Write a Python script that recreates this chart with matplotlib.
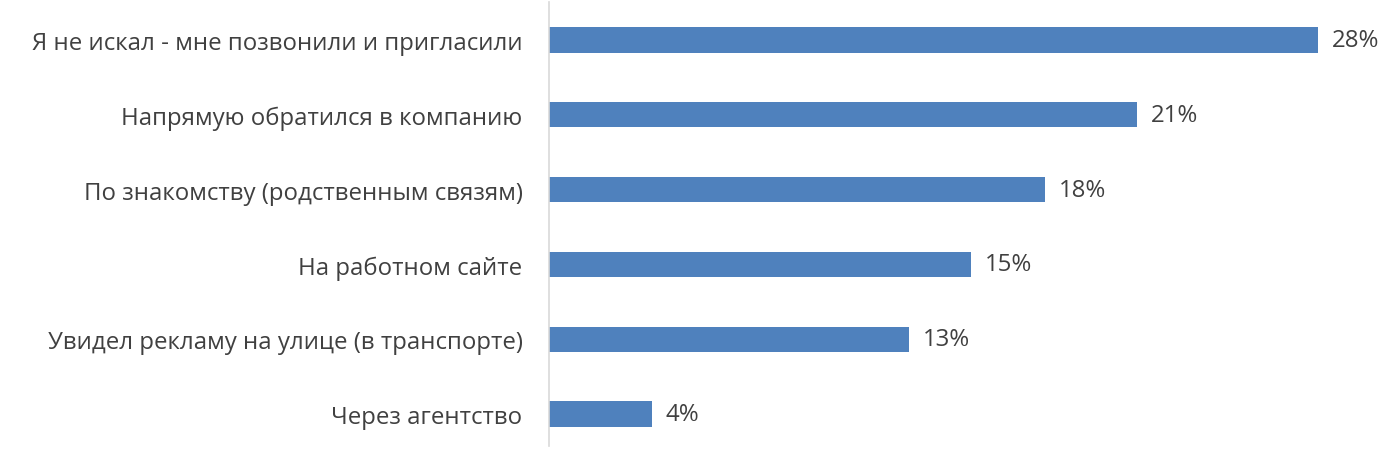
import matplotlib.pyplot as plt

categories = [
    "Я не искал - мне позвонили и пригласили",
    "Напрямую обратился в компанию",
    "По знакомству (родственным связям)",
    "На работном сайте",
    "Увидел рекламу на улице (в транспорте)",
    "Через агентство",
]
values = [27.96, 21.38, 18.04, 15.35, 13.1, 3.75]

plt.rcParams['font.family'] = ['Open Sans', 'DejaVu Sans']

fig = plt.figure(figsize=(14, 4.52), dpi=100)
ax = fig.add_axes([549 / 1400, 5 / 452, 841 / 1400, 444 / 452])

pos = list(range(len(categories)))
ax.barh(pos, values, height=0.34, color='#4f81bd')

for p, v in zip(pos, values):
    ax.text(v + 0.5, p, f"{round(v)}%", va='center', ha='left',
            fontsize=17.3, color='#404040')

ax.set_xlim(0, 841 / 27.5)
ax.set_ylim(len(categories) - 1 + 0.427, -0.507)
ax.set_yticks(pos)
ax.set_yticklabels(categories, fontsize=17.3, color='#404040')
ax.tick_params(axis='y', length=0, pad=19)
ax.set_xticks([])

for s in ['top', 'right', 'bottom']:
    ax.spines[s].set_visible(False)
ax.spines['left'].set_color('#d9d9d9')
ax.spines['left'].set_linewidth(1.2)

fig.savefig('out.png', dpi=100)
